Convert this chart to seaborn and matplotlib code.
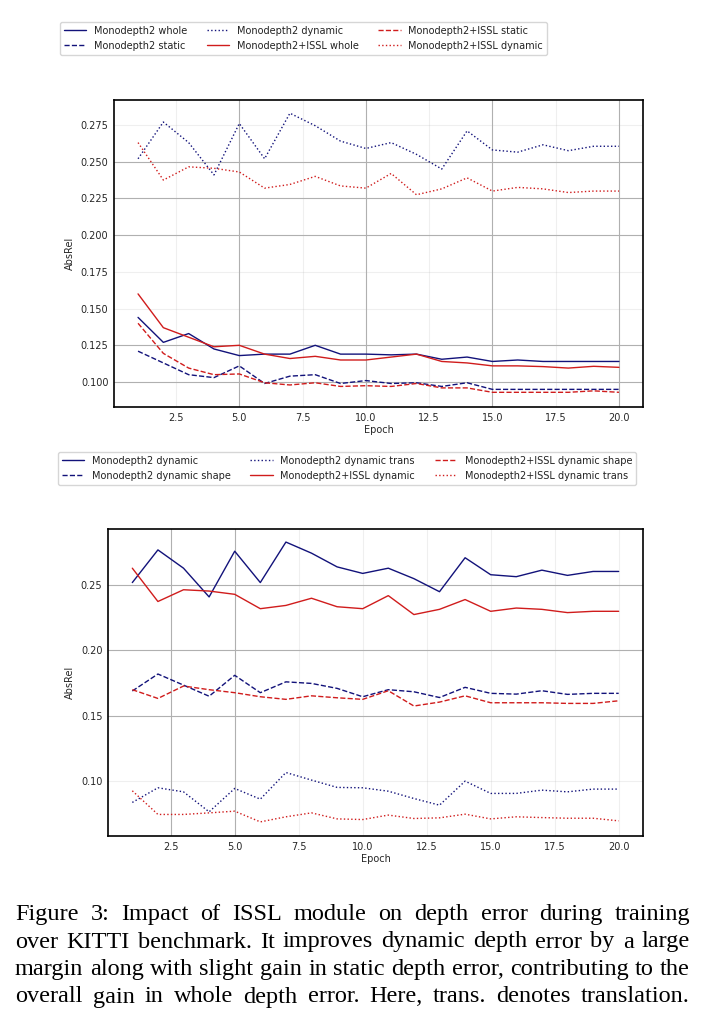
import numpy as np
import pandas as pd
import seaborn as sns
import matplotlib
matplotlib.use('Agg')
import matplotlib.pyplot as plt
from matplotlib.ticker import MultipleLocator

# epochs shared by both panels
epochs = list(range(1, 21))

# top panel: whole / static / dynamic AbsRel
m2_whole = [0.144, 0.127, 0.133, 0.1225, 0.118, 0.119, 0.119, 0.125, 0.119, 0.119,
            0.1185, 0.119, 0.1155, 0.117, 0.114, 0.115, 0.114, 0.114, 0.114, 0.114]
m2_static = [0.121, 0.113, 0.105, 0.103, 0.111, 0.099, 0.104, 0.105, 0.099, 0.101,
             0.099, 0.0995, 0.097, 0.0995, 0.095, 0.095, 0.095, 0.095, 0.095, 0.095]
m2_dynamic = [0.252, 0.277, 0.263, 0.241, 0.276, 0.252, 0.283, 0.2745, 0.264, 0.259,
              0.263, 0.255, 0.245, 0.271, 0.258, 0.2565, 0.2615, 0.2575, 0.2605, 0.2605]
issl_whole = [0.160, 0.137, 0.1305, 0.124, 0.125, 0.119, 0.116, 0.1175, 0.115, 0.115,
              0.117, 0.119, 0.114, 0.113, 0.111, 0.111, 0.1105, 0.1095, 0.1107, 0.110]
issl_static = [0.140, 0.1195, 0.1095, 0.105, 0.1055, 0.0995, 0.098, 0.0995, 0.097, 0.0975,
               0.097, 0.099, 0.096, 0.096, 0.093, 0.093, 0.093, 0.093, 0.094, 0.093]
issl_dynamic = [0.263, 0.2375, 0.2465, 0.2455, 0.243, 0.232, 0.2345, 0.240, 0.2335, 0.232,
                0.242, 0.2275, 0.2315, 0.239, 0.230, 0.2325, 0.2315, 0.229, 0.230, 0.230]

# bottom panel: dynamic split into shape / translation
m2_dyn_shape = [0.169, 0.182, 0.1735, 0.165, 0.181, 0.1677, 0.176, 0.1748, 0.171, 0.1646,
                0.170, 0.1684, 0.164, 0.1718, 0.1672, 0.1666, 0.1692, 0.1664, 0.1672, 0.1672]
m2_dyn_trans = [0.0837, 0.0949, 0.0918, 0.0765, 0.0944, 0.0862, 0.1066, 0.1008, 0.0952, 0.0949,
                0.0923, 0.0867, 0.0816, 0.100, 0.0906, 0.0906, 0.0931, 0.0918, 0.0939, 0.0939]
issl_dyn_shape = [0.170, 0.1633, 0.1728, 0.170, 0.1677, 0.1646, 0.1626, 0.1653, 0.1638, 0.1626,
                  0.1692, 0.1575, 0.1605, 0.1653, 0.160, 0.160, 0.160, 0.1595, 0.1595, 0.1615]
issl_dyn_trans = [0.0926, 0.0745, 0.0745, 0.0757, 0.077, 0.0688, 0.0727, 0.0757, 0.0711, 0.0706,
                  0.074, 0.0714, 0.0719, 0.0747, 0.0711, 0.0727, 0.0721, 0.0716, 0.0716, 0.0696]

caption_lines = [
    "Figure 3:  Impact of ISSL module on depth error during training",
    "over KITTI benchmark. It improves dynamic depth error by a large",
    "margin along with slight gain in static depth error, contributing to the",
    "overall gain in whole depth error. Here, trans. denotes translation.",
]

blue = '#12127a'
red = '#d01c1c'

sns.set_style('whitegrid', {'axes.edgecolor': 'black', 'grid.color': '#b0b0b0'})
plt.rcParams['font.family'] = 'DejaVu Sans'
plt.rcParams['font.size'] = 7
plt.rcParams['xtick.labelsize'] = 7
plt.rcParams['ytick.labelsize'] = 7
plt.rcParams['axes.labelsize'] = 7
plt.rcParams['text.color'] = '#222222'

W, H = 703, 1017
fig = plt.figure(figsize=(W / 100, H / 100), dpi=100)

ax1 = fig.add_axes([114 / W, 1 - 407 / H, (643 - 114) / W, (407 - 100) / H])
ax2 = fig.add_axes([108 / W, 1 - 836 / H, (643 - 108) / W, (836 - 529) / H])

top_series = [
    ('Monodepth2 whole', m2_whole, blue, '-'),
    ('Monodepth2 static', m2_static, blue, '--'),
    ('Monodepth2 dynamic', m2_dynamic, blue, ':'),
    ('Monodepth2+ISSL whole', issl_whole, red, '-'),
    ('Monodepth2+ISSL static', issl_static, red, '--'),
    ('Monodepth2+ISSL dynamic', issl_dynamic, red, ':'),
]
bottom_series = [
    ('Monodepth2 dynamic', m2_dynamic, blue, '-'),
    ('Monodepth2 dynamic shape', m2_dyn_shape, blue, '--'),
    ('Monodepth2 dynamic trans', m2_dyn_trans, blue, ':'),
    ('Monodepth2+ISSL dynamic', issl_dynamic, red, '-'),
    ('Monodepth2+ISSL dynamic shape', issl_dyn_shape, red, '--'),
    ('Monodepth2+ISSL dynamic trans', issl_dyn_trans, red, ':'),
]


def draw_panel(ax, series, ystep, ylim, faint_x, faint_y):
    for name, vals, col, ls in series:
        sns.lineplot(x=epochs, y=vals, ax=ax, color=col, linestyle=ls,
                     linewidth=1.0, label=name, legend=False)
    if ax.get_legend() is not None:
        ax.get_legend().remove()
    ax.set_xlim(0.05, 20.95)
    ax.set_ylim(*ylim)
    ax.xaxis.set_major_locator(MultipleLocator(2.5))
    ax.yaxis.set_major_locator(MultipleLocator(ystep))
    ax.set_xlabel('Epoch', labelpad=2)
    ax.set_ylabel('AbsRel', labelpad=4)
    ax.tick_params(length=0, pad=4)
    # some grid lines look much lighter in the reference
    for val, gl in zip(ax.get_xticks(), ax.get_xgridlines()):
        if any(abs(val - f) < 1e-6 for f in faint_x):
            gl.set_alpha(0.2)
    for val, gl in zip(ax.get_yticks(), ax.get_ygridlines()):
        if any(abs(val - f) < 1e-6 for f in faint_y):
            gl.set_alpha(0.2)
    for sp in ax.spines.values():
        sp.set_linewidth(1.2)
    return [l for l in ax.get_lines() if not l.get_label().startswith('_')]


h1 = draw_panel(ax1, top_series, 0.025, (0.083, 0.292),
                [2.5, 7.5, 12.5, 17.5], [0.275, 0.175, 0.15])
h2 = draw_panel(ax2, bottom_series, 0.05, (0.058, 0.293),
                [7.5, 10, 12.5, 15, 17.5, 20], [0.10])

fig.legend(h1, [h.get_label() for h in h1], loc='upper left', ncol=3,
           bbox_to_anchor=(60 / W, 1 - 22 / H), fontsize=7, frameon=True,
           columnspacing=2.0, borderaxespad=0, handlelength=2.3)
fig.legend(h2, [h.get_label() for h in h2], loc='upper left', ncol=3,
           bbox_to_anchor=(58 / W, 1 - 452 / H), fontsize=7, frameon=True,
           columnspacing=2.0, borderaxespad=0, handlelength=2.3)

# justified caption, one text per word
fig.canvas.draw()
r = fig.canvas.get_renderer()
left_px, right_px = 15, 690
baselines = [920, 947.5, 975, 1002.5]
for line, base in zip(caption_lines, baselines):
    words = line.split()
    texts = [fig.text(0, 1 - base / H, w, fontsize=17.5, family='Liberation Serif',
                      color='black', va='baseline', ha='left') for w in words]
    widths = [t.get_window_extent(r).width for t in texts]
    gap = (right_px - left_px - sum(widths)) / (len(words) - 1)
    gap = max(gap, 2.5)
    x = left_px
    for t, w in zip(texts, widths):
        t.set_x(x / W)
        x += w + gap

fig.savefig('out.png', dpi=100)
